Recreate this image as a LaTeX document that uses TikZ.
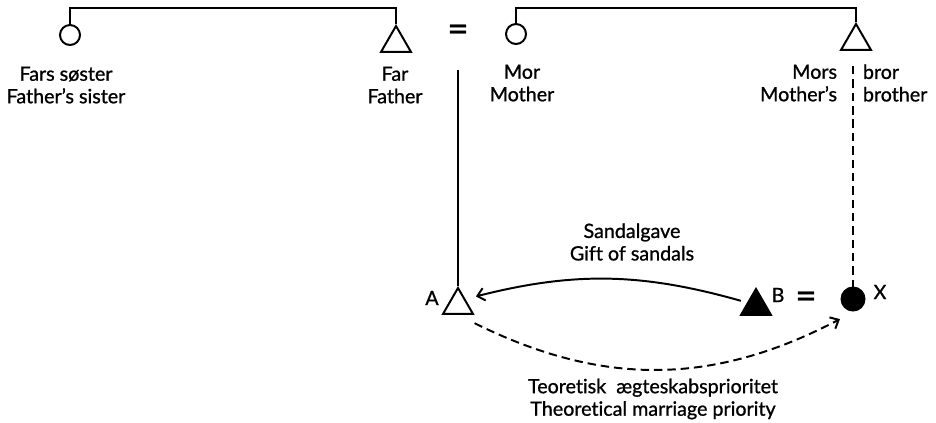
\documentclass[tikz,border=0pt]{standalone}
\usepackage{fontspec}
\setmainfont{Lato}[Ligatures=NoCommon, UprightFeatures={FakeBold=1.0}]
\usetikzlibrary{shapes.geometric,arrows.meta}
\tikzset{
  male/.style={draw, regular polygon, regular polygon sides=3, minimum size=0.86cm, inner sep=0pt, anchor=corner 1},
  female/.style={draw, circle, minimum size=0.5cm, inner sep=0pt},
  lbl/.style={font=\fontsize{14}{16}\selectfont, align=center, inner sep=0pt},
  eqsign/.style={font=\fontsize{26}{26}\selectfont, inner sep=0pt},
}
\begin{document}
\begin{tikzpicture}[x=0.025cm, y=-0.025cm, line width=1.4pt, >={Straight Barb[length=5pt,width=9pt]}]
        \useasboundingbox (0,0) rectangle (936,422);
        % generation above: two sibling sets joined by the marriage sign
        \coordinate (top) at (0,8);
        \node[female] (fsis) at (70,35) {};
        \node[male] (far) at (396,24) {};
        \node[eqsign] (eqtop) at (458,33) {=};
        \node[female] (mor) at (516,34) {};
        \node[male] (mbro) at (856,22) {};
        \draw (fsis.north) -- (fsis.north |- top) -| (far.corner 1);
        \draw (mor.north) -- (mor.north |- top) -| (mbro.corner 1);
        \node[lbl] (fsislbl) at (66,85) {Fars søster\\Father’s sister};
        \node[lbl] (farlbl) at (395,85) {Far\\Father};
        \node[lbl] (morlbl) at (522,83) {Mor\\Mother};
        \node[lbl, anchor=east, align=right] (mbrolbl) at (838,83) {Mors\\Mother’s};
        \node[lbl, anchor=west, align=left] (brorlbl) at (862,83) {bror\\brother};
        % ego generation
        \coordinate (marr) at (458,70);
        \coordinate (sib) at (853,66);
        \node[male] (egoA) at (458,286) {};
        \node[lbl] (albl) at (432,298) {A};
        \node[male, fill] (B) at (756,287) {};
        \node[lbl] (blbl) at (778,295) {B};
        \node[eqsign] (eqlow) at (806,300) {=};
        \node[female, fill, minimum size=0.575cm] (X) at (853,299) {};
        \node[lbl] (xlbl) at (880,292) {X};
        \draw (marr) -- (egoA.corner 1);
        \draw[dashed, dash pattern=on 6pt off 3.5pt] (sib) -- (X.north);
        \draw[->, shorten <=3pt, shorten >=5pt] ([yshift=3pt]B.west) to[bend right=15] ([yshift=5pt]egoA.east);
        \draw[->, dashed, dash pattern=on 6pt off 3.5pt] ([yshift=-6pt]egoA.corner 3) to[bend right=27] ([shift={(-3pt,-8pt)}]X.south west);
        \node[lbl] (gift) at (632,242) {Sandalgave\\Gift of sandals};
        \node[lbl] (prio) at (653,399) {Teoretisk\ \ ægteskabsprioritet\\Theoretical marriage priority};
      \end{tikzpicture}
\end{document}
